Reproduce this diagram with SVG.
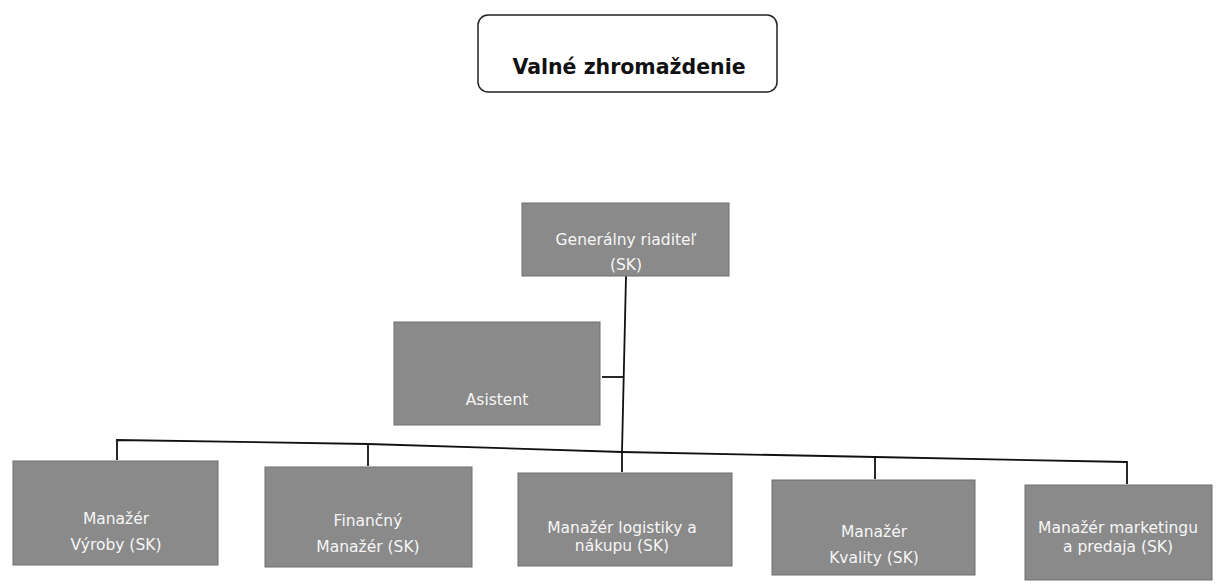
<svg xmlns="http://www.w3.org/2000/svg" width="1218" height="585" viewBox="0 0 1218 585">
<style>
.box{fill:#8a8a8a;stroke:#6e6e6e;stroke-width:1}
.lbl{font-family:"DejaVu Sans",Verdana,sans-serif;font-size:15.5px;fill:#f6f6f6;text-anchor:middle}
.ttl{font-family:"DejaVu Sans",Verdana,sans-serif;font-size:20.5px;font-weight:bold;fill:#111;text-anchor:middle}
.ln{fill:none;stroke:#111;stroke-width:1.8}
</style>
<rect width="1218" height="585" fill="#ffffff"/>
<g id="connectors">
<polyline class="ln" points="626,276 622,452"/>
<line class="ln" x1="602" y1="377" x2="624" y2="377"/>
<polyline class="ln" points="117,460 117,440 368,444 622,452 875,457 1127,462 1127,484"/>
<line class="ln" x1="368" y1="444" x2="368" y2="466"/>
<line class="ln" x1="622" y1="452" x2="622" y2="472"/>
<line class="ln" x1="875" y1="457" x2="875" y2="479"/>
</g>
<g id="valne-zhromazdenie">
<rect x="478" y="15" width="299" height="77" rx="10" ry="10" fill="#ffffff" stroke="#222" stroke-width="1.5"/>
<text class="ttl" x="629" y="74">Valné zhromaždenie</text>
</g>
<g id="generalny-riaditel">
<rect class="box" x="522" y="203" width="207" height="73"/>
<text class="lbl" x="626" y="245">Generálny riaditeľ</text>
<text class="lbl" x="626" y="270">(SK)</text>
</g>
<g id="asistent">
<rect class="box" x="394" y="322" width="206" height="103"/>
<text class="lbl" x="497" y="405">Asistent</text>
</g>
<g id="manazer-vyroby">
<rect class="box" x="13" y="461" width="205" height="104"/>
<text class="lbl" x="116" y="524">Manažér</text>
<text class="lbl" x="116" y="550">Výroby (SK)</text>
</g>
<g id="financny-manazer">
<rect class="box" x="265" y="467" width="207" height="100"/>
<text class="lbl" x="368" y="526">Finančný</text>
<text class="lbl" x="368" y="552">Manažér (SK)</text>
</g>
<g id="manazer-logistiky">
<rect class="box" x="518" y="473" width="214" height="93"/>
<text class="lbl" x="622" y="533">Manažér logistiky a</text>
<text class="lbl" x="622" y="551">nákupu (SK)</text>
</g>
<g id="manazer-kvality">
<rect class="box" x="772" y="480" width="203" height="95"/>
<text class="lbl" x="874" y="537">Manažér</text>
<text class="lbl" x="874" y="563">Kvality (SK)</text>
</g>
<g id="manazer-marketingu">
<rect class="box" x="1025" y="485" width="187" height="95"/>
<text class="lbl" x="1118" y="533">Manažér marketingu</text>
<text class="lbl" x="1118" y="552">a predaja (SK)</text>
</g>
</svg>
